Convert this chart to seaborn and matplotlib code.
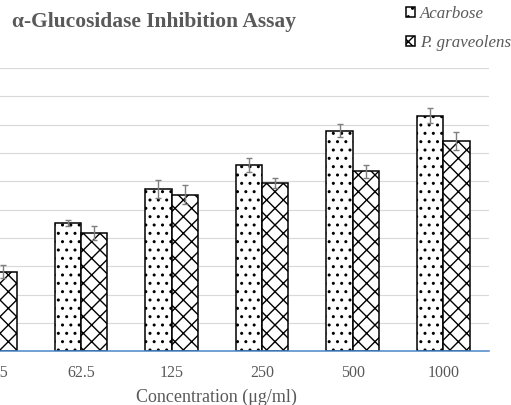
import numpy as np
import pandas as pd
import matplotlib
matplotlib.use("Agg")
import matplotlib.pyplot as plt
from matplotlib.patches import Patch
import seaborn as sns

# values (% inhibition)
concentrations = ["31.25", "62.5", "125", "250", "500", "1000"]
series = ["Acarbose", "P. graveolens"]
acarbose = [31.0, 45.3, 57.3, 65.8, 77.9, 83.2]
acarbose_err = [2.0, 1.0, 3.2, 2.4, 2.3, 2.6]
graveolens = [28.1, 41.8, 55.3, 59.4, 63.5, 74.3]
graveolens_err = [2.3, 2.6, 3.3, 1.8, 2.3, 3.3]
hatches = ["..", "xx"]

df = pd.DataFrame({
    "conc": concentrations * 2,
    "inhibition": acarbose + graveolens,
    "sample": [series[0]] * len(concentrations) + [series[1]] * len(concentrations),
})

sns.set_theme(style="white")
plt.rcParams["font.family"] = ["Liberation Serif", "DejaVu Serif"]
plt.rcParams["hatch.linewidth"] = 1.0

TEXT = "#595959"
fig = plt.figure(figsize=(5.11, 4.05), dpi=100)
ax = fig.add_axes([-0.1076, 0.1321, 1.0638, 0.70])

sns.barplot(data=df, x="conc", y="inhibition", hue="sample",
            order=concentrations, hue_order=series,
            palette=["white", "white"], width=0.58, errorbar=None,
            edgecolor="black", linewidth=1.1, legend=False, ax=ax, zorder=2)

bar_groups = list(ax.containers)
for cont, hatch, errs in zip(bar_groups, hatches, [acarbose_err, graveolens_err]):
    xs, ys = [], []
    for bar in cont:
        bar.set_hatch(hatch)
        xs.append(bar.get_x() + bar.get_width() / 2)
        ys.append(bar.get_height())
    ax.errorbar(xs, ys, yerr=errs, fmt="none", ecolor="#7f7f7f",
                elinewidth=1.0, capsize=2.5, capthick=1.0, zorder=3)

ax.set_xlim(-0.5, len(concentrations) - 0.5)
ax.set_ylim(0, 100)
ax.set_yticks(np.arange(0, 101, 10))
ax.yaxis.grid(True, color="#d9d9d9", linewidth=0.8, zorder=0)
ax.set_axisbelow(True)
ax.tick_params(axis="y", left=False, labelleft=False)
ax.tick_params(axis="x", bottom=False, pad=4, labelsize=11.5, labelcolor=TEXT)
for side in ["top", "right", "left"]:
    ax.spines[side].set_visible(False)
ax.spines["bottom"].set_color("#4a86c8")
ax.spines["bottom"].set_linewidth(1.1)
ax.spines["bottom"].set_zorder(4)

ax.set_xlabel("Concentration (\u03bcg/ml)", fontsize=13, color=TEXT, labelpad=5)
ax.set_ylabel("")

fig.text(12 / 511, 1 - 27 / 405, "\u03b1-Glucosidase Inhibition Assay",
         fontsize=15.5, fontweight="bold", color=TEXT, va="baseline", ha="left")

handles = [Patch(facecolor="white", edgecolor="black", hatch=h, linewidth=1.1, label=s)
           for s, h in zip(series, hatches)]
fig.legend(handles=handles, loc="upper left", bbox_to_anchor=(406 / 511, 1 - 6 / 405),
           frameon=False, prop={"style": "italic", "size": 12.2}, labelcolor=TEXT,
           handlelength=0.55, handleheight=0.55, handletextpad=0.3,
           labelspacing=0.75, borderpad=0, borderaxespad=0)

fig.savefig("out.png", dpi=100)
